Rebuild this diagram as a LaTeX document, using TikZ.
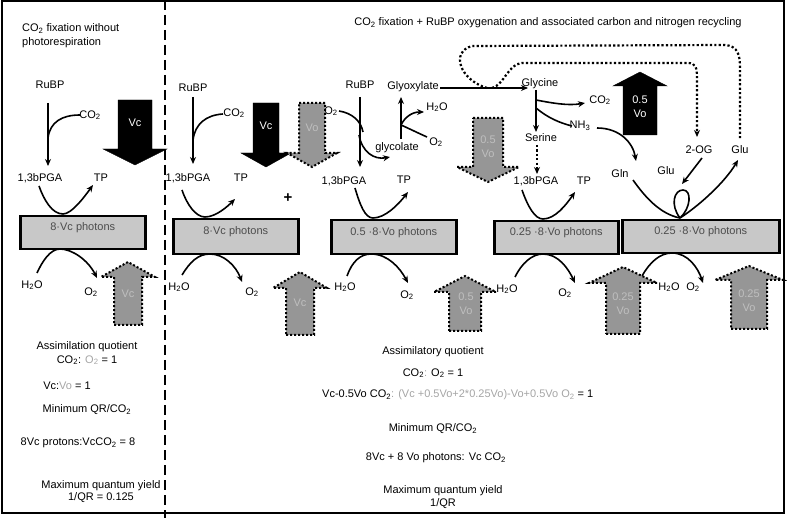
\documentclass[tikz,border=0pt]{standalone}
\usepackage{fontspec}
\setmainfont{Liberation Sans}
\usetikzlibrary{arrows.meta}
\definecolor{boxgray}{RGB}{200,200,200}
\definecolor{arrowgray}{RGB}{150,150,150}
\definecolor{faint}{RGB}{165,165,165}
\newcommand{\tsub}[1]{\textsubscript{#1}}
% fat block arrow: style, x, tail y, head base y, tip y, half shaft, half head
\newcommand{\fatarrow}[7]{%
  \draw[#1] (#2-#6,#3) -- (#2+#6,#3) -- (#2+#6,#4) -- (#2+#7,#4)
    -- (#2,#5) -- (#2-#7,#4) -- (#2-#6,#4) -- cycle;}
\begin{document}
\begin{tikzpicture}[x=1pt,y=-1pt,
  every node/.style={font=\fontsize{11}{14}\selectfont,inner sep=1pt},
  flow/.style={line width=1.6pt,-{Stealth[length=7pt,width=6pt]}},
  link/.style={line width=1.6pt},
  dotflow/.style={line width=2.2pt,dash pattern=on 2.2pt off 2.2pt},
  photonbox/.style={draw,line width=2.5pt,fill=boxgray,anchor=north west,
    text=black!70,text height=8pt,text depth=12pt},
  solidfat/.style={fill=black},
  dottedfat/.style={fill=arrowgray,draw=black,line width=2pt,dash pattern=on 2pt off 2pt},
  inblack/.style={text=white,align=center},
  ingray/.style={text=black!25,align=center}]
\useasboundingbox (0,0) rectangle (787,518);
\draw[line width=2pt] (1.5,1.5) rectangle (784,513);
\draw[line width=2pt,dash pattern=on 10pt off 5pt] (165,0) -- (165,518);

% ---- without photorespiration
\node[anchor=base west] (titleA) at (21,32) {CO\tsub{2} fixation without};
\node[anchor=base west] (titleA2) at (21,46) {photorespiration};
\node (rubpA) at (50,85) {RuBP};
\node (coA) at (90,115) {CO\tsub{2}};
\node (pgaA) at (40,178) {1,3bPGA};
\node (tpA) at (101,178) {TP};
\node (h2oA) at (32,285) {H\tsub{2}O};
\node (o2A) at (91,292) {O\tsub{2}};
\node[photonbox,minimum width=125pt,minimum height=33pt] (boxA) at (19,215) {8·Vc photons};
\coordinate (topA) at (63,214);
\coordinate (botA) at (60,249);
\coordinate (jA) at (48,138);
\draw[flow] ([shift={(-2,18)}]rubpA.center) -- ([shift={(8,-12)}]pgaA.center);
\draw[link] ([shift={(-10,0)}]coA.center) .. controls (62,115) and (50,122) .. (jA);
\draw[flow] ([shift={(-1,8)}]pgaA.center) .. controls (44,200) and (52,214) .. (topA)
  .. controls (72,214) and (85,196) .. ([shift={(-8,7)}]tpA.center);
\draw[flow] ([shift={(5,-12)}]h2oA.center) .. controls (42,262) and (50,249) .. (botA)
  .. controls (72,249) and (88,260) .. ([shift={(6,-14)}]o2A.center);
\fatarrow{solidfat}{135}{100}{149}{165}{17}{32}
\node[inblack] (vcA) at (135,123) {Vc};
\fatarrow{dottedfat}{128}{325}{277}{262}{14}{27}
\node[ingray] (vcAup) at (128,294) {Vc};
\node (aqA) at (87,347) {Assimilation quotient};
\node (aqA2) at (87,360) {CO\tsub{2}: \textcolor{faint}{O\tsub{2}} = 1};
\node (vvA) at (67,386) {Vc:\textcolor{faint}{Vo} = 1};
\node (qrA) at (87,410) {Minimum QR/CO\tsub{2}};
\node (prA) at (78,443) {8Vc protons:VcCO\tsub{2} = 8};
\node (myA) at (101,486) {Maximum quantum yield};
\node (myA2) at (101,498) {1/QR = 0.125};

% ---- with RuBP oxygenation
\node (titleB) at (548,23) {CO\tsub{2} fixation + RuBP oxygenation and associated carbon and nitrogen recycling};
\node (rubpB) at (193,88) {RuBP};
\node (coB) at (234,113) {CO\tsub{2}};
\node (pgaB) at (188,178) {1,3bPGA};
\node (tpB) at (241,178) {TP};
\node (h2oB) at (179,287) {H\tsub{2}O};
\node (o2B) at (252,292) {O\tsub{2}};
\node[font=\fontsize{15}{15}\selectfont\bfseries] (plus) at (288,198) {+};
\node[photonbox,minimum width=125pt,minimum height=35pt] (boxB) at (172,218) {8·Vc photons};
\coordinate (topB) at (205,217);
\coordinate (botB) at (210,254);
\coordinate (jB) at (193,140);
\draw[flow] ([shift={(0,9)}]rubpB.center) -- ([shift={(5,-14)}]pgaB.center);
\draw[link] ([shift={(-11,1)}]coB.center) .. controls (206,115) and (195,124) .. (jB);
\draw[flow] ([shift={(-6,12)}]pgaB.center) .. controls (187,205) and (196,217) .. (topB)
  .. controls (216,217) and (228,206) .. ([shift={(-6,21)}]tpB.center);
\draw[flow] ([shift={(3,-12)}]h2oB.center) .. controls (190,262) and (198,254) .. (botB)
  .. controls (224,254) and (236,266) .. ([shift={(-10,-10)}]o2B.center);

% oxygenation branch
\node (rubpC) at (360,85) {RuBP};
\node (o2in) at (331,111) {O\tsub{2}};
\node (glyco) at (397,148) {glycolate};
\node (glyox) at (413,87) {Glyoxylate};
\node (h2oCup) at (437,107) {H\tsub{2}O};
\node (o2Cup) at (436,142) {O\tsub{2}};
\node (pgaC) at (344,181) {1,3bPGA};
\node (tpC) at (404,180) {TP};
\node (h2oC) at (345,287) {H\tsub{2}O};
\node (o2C) at (407,295) {O\tsub{2}};
\node[photonbox,minimum width=125pt,minimum height=34pt] (boxC) at (330,219) {0.5 ·8·Vo photons};
\coordinate (topC) at (373,218);
\coordinate (botC) at (371,254);
\coordinate (xC1) at (363,132);
\coordinate (xC2) at (359,135);
\coordinate (brC) at (401,125);
\draw[flow] ([shift={(0,12)}]rubpC.center) -- ([shift={(16,-14)}]pgaC.center);
\draw[link] ([shift={(8,0)}]o2in.center) .. controls (352,113) and (361,121) .. (xC1);
\draw[flow] (xC2) .. controls (362,152) and (374,160) .. ([shift={(-7,9)}]glyco.center);
\draw[flow] ([shift={(4,-9)}]glyco.center) -- ([shift={(-12,10)}]glyox.center);
\draw[flow] (brC) .. controls (405,117) and (412,112) .. ([shift={(-13,5)}]h2oCup.center);
\draw[link] (brC) .. controls (410,129) and (418,133) .. ([shift={(-9,-5)}]o2Cup.center);
\draw[flow] ([shift={(11,7)}]pgaC.center) .. controls (360,205) and (365,218) .. (topC)
  .. controls (385,218) and (398,205) .. ([shift={(4,12)}]tpC.center);
\draw[flow] ([shift={(2,-11)}]h2oC.center) .. controls (352,262) and (360,254) .. (botC)
  .. controls (388,254) and (400,268) .. ([shift={(1,-12)}]o2C.center);

% glycine and serine
\node (glycine) at (540,84) {Glycine};
\node (serine) at (541,138) {Serine};
\node (coD) at (600,100) {CO\tsub{2}};
\node (nhD) at (580,126) {NH\tsub{3}};
\node (pgaD) at (536,181) {1,3bPGA};
\node (tpD) at (584,181) {TP};
\node (h2oD) at (507,289) {H\tsub{2}O};
\node (o2D) at (565,293) {O\tsub{2}};
\node[photonbox,minimum width=124pt,minimum height=33pt] (boxD) at (493,220) {0.25 ·8·Vo photons};
\coordinate (topD) at (543,219);
\coordinate (botD) at (543,254);
\coordinate (brD1) at (536,100);
\coordinate (brD2) at (536,108);
\draw[flow] ([shift={(27,1)}]glyox.center) -- ([shift={(-12,4)}]glycine.center);
\draw[flow] ([shift={(-4,6)}]glycine.center) -- ([shift={(-5,-6)}]serine.center);
\draw[flow] (brD1) .. controls (552,103) and (568,106) .. ([shift={(-15,3)}]coD.center);
\draw[link] (brD2) .. controls (548,118) and (560,123) .. ([shift={(-8,0)}]nhD.center);
\draw[dotflow,-{Stealth[length=7pt,width=6pt]}] ([shift={(-4,7)}]serine.center) -- ([shift={(1,-7)}]pgaD.center);
\draw[flow] ([shift={(-14,9)}]pgaD.center) .. controls (528,207) and (535,219) .. (topD)
  .. controls (555,219) and (566,205) .. ([shift={(-9,11)}]tpD.center);
\draw[flow] ([shift={(8,-12)}]h2oD.center) .. controls (522,263) and (532,254) .. (botD)
  .. controls (558,254) and (568,268) .. ([shift={(10,-10)}]o2D.center);

% nitrogen recycling
\node (glnE) at (620,174) {Gln};
\node (gluE) at (666,171) {Glu};
\node (ogE) at (699,150) {2-OG};
\node (gluE2) at (740,150) {Glu};
\node (h2oE) at (669,287) {H\tsub{2}O};
\node (o2E) at (693,287) {O\tsub{2}};
\node[photonbox,minimum width=157pt,minimum height=33pt] (boxE) at (621,219) {0.25 ·8·Vo photons};
\coordinate (pE) at (680,218);
\coordinate (botE) at (672,253);
\draw[flow] ([shift={(17,2)}]nhD.center) .. controls (620,128) and (633,143) .. ([shift={(16,-13)}]glnE.center);
\draw[link] ([shift={(13,6)}]glnE.center) .. controls (645,197) and (660,214) .. (pE);
\draw[link] (pE) .. controls (670,205) and (674,190) .. (683,190)
  .. controls (692,190) and (691,208) .. (pE);
\draw[flow] (pE) .. controls (700,205) and (725,182) .. ([shift={(-2,10)}]gluE2.center);
\draw[flow] ([shift={(3,8)}]ogE.center) -- ([shift={(-17,34)}]ogE.center);
\draw[flow] ([shift={(-27,-11)}]h2oE.center) .. controls (650,262) and (660,253) .. (botE)
  .. controls (688,253) and (698,268) .. ([shift={(10,-4)}]o2E.center);

% carbon and nitrogen return loops
\draw[dotflow] (487,88) .. controls (460,80) and (450,52) .. (472,46)
  -- (725,45) .. controls (738,46) and (740,55) .. (740,68) -- ([shift={(0,-10)}]gluE2.center);
\draw[dotflow,-{Stealth[length=7pt,width=6pt]}] (492,88) .. controls (505,84) and (508,64) .. (522,63)
  -- (688,63) .. controls (696,63) and (697,68) .. (697,78) -- ([shift={(-2,-13)}]ogE.center);

% block arrows
\fatarrow{solidfat}{266}{103}{153}{167}{13}{25}
\node[inblack] (vcB) at (266,126) {Vc};
\fatarrow{dottedfat}{312}{103}{153}{167}{13}{25}
\node[ingray] (voB) at (312,128) {Vo};
\fatarrow{dottedfat}{300}{335}{288}{272}{14}{27}
\node[ingray] (vcBup) at (300,303) {Vc};
\fatarrow{dottedfat}{488}{118}{167}{182}{15}{31}
\node[ingray] (voC) at (488,147) {0.5\\Vo};
\fatarrow{dottedfat}{465}{331}{292}{276}{16}{31}
\node[ingray] (voCup) at (466,304) {0.5\\Vo};
\fatarrow{solidfat}{640}{135}{86}{72}{17}{27}
\node[inblack] (voD) at (640,107) {0.5\\Vo};
\fatarrow{dottedfat}{623}{334}{283}{267}{17}{34}
\node[ingray] (voDup) at (623,304) {0.25\\Vo};
\fatarrow{dottedfat}{749}{329}{280}{266}{18}{34}
\node[ingray] (voEup) at (749,301) {0.25\\Vo};

% quotients
\node (aqB) at (433,352) {Assimilatory quotient};
\node (aqB2) at (433,373) {CO\tsub{2}\textcolor{faint}{:} O\tsub{2} = 1};
\node[anchor=west] (eqB) at (321,395) {Vc-0.5Vo CO\tsub{2}\textcolor{faint}{: (Vc +0.5Vo+2*0.25Vo)-Vo+0.5Vo O\tsub{2}} = 1};
\node (qrB) at (433,429) {Minimum QR/CO\tsub{2}};
\node (prB) at (436,458) {8Vc + 8 Vo photons: Vc CO\tsub{2}};
\node (myB) at (443,491) {Maximum quantum yield};
\node (myB2) at (443,504) {1/QR};
\end{tikzpicture}
\end{document}
